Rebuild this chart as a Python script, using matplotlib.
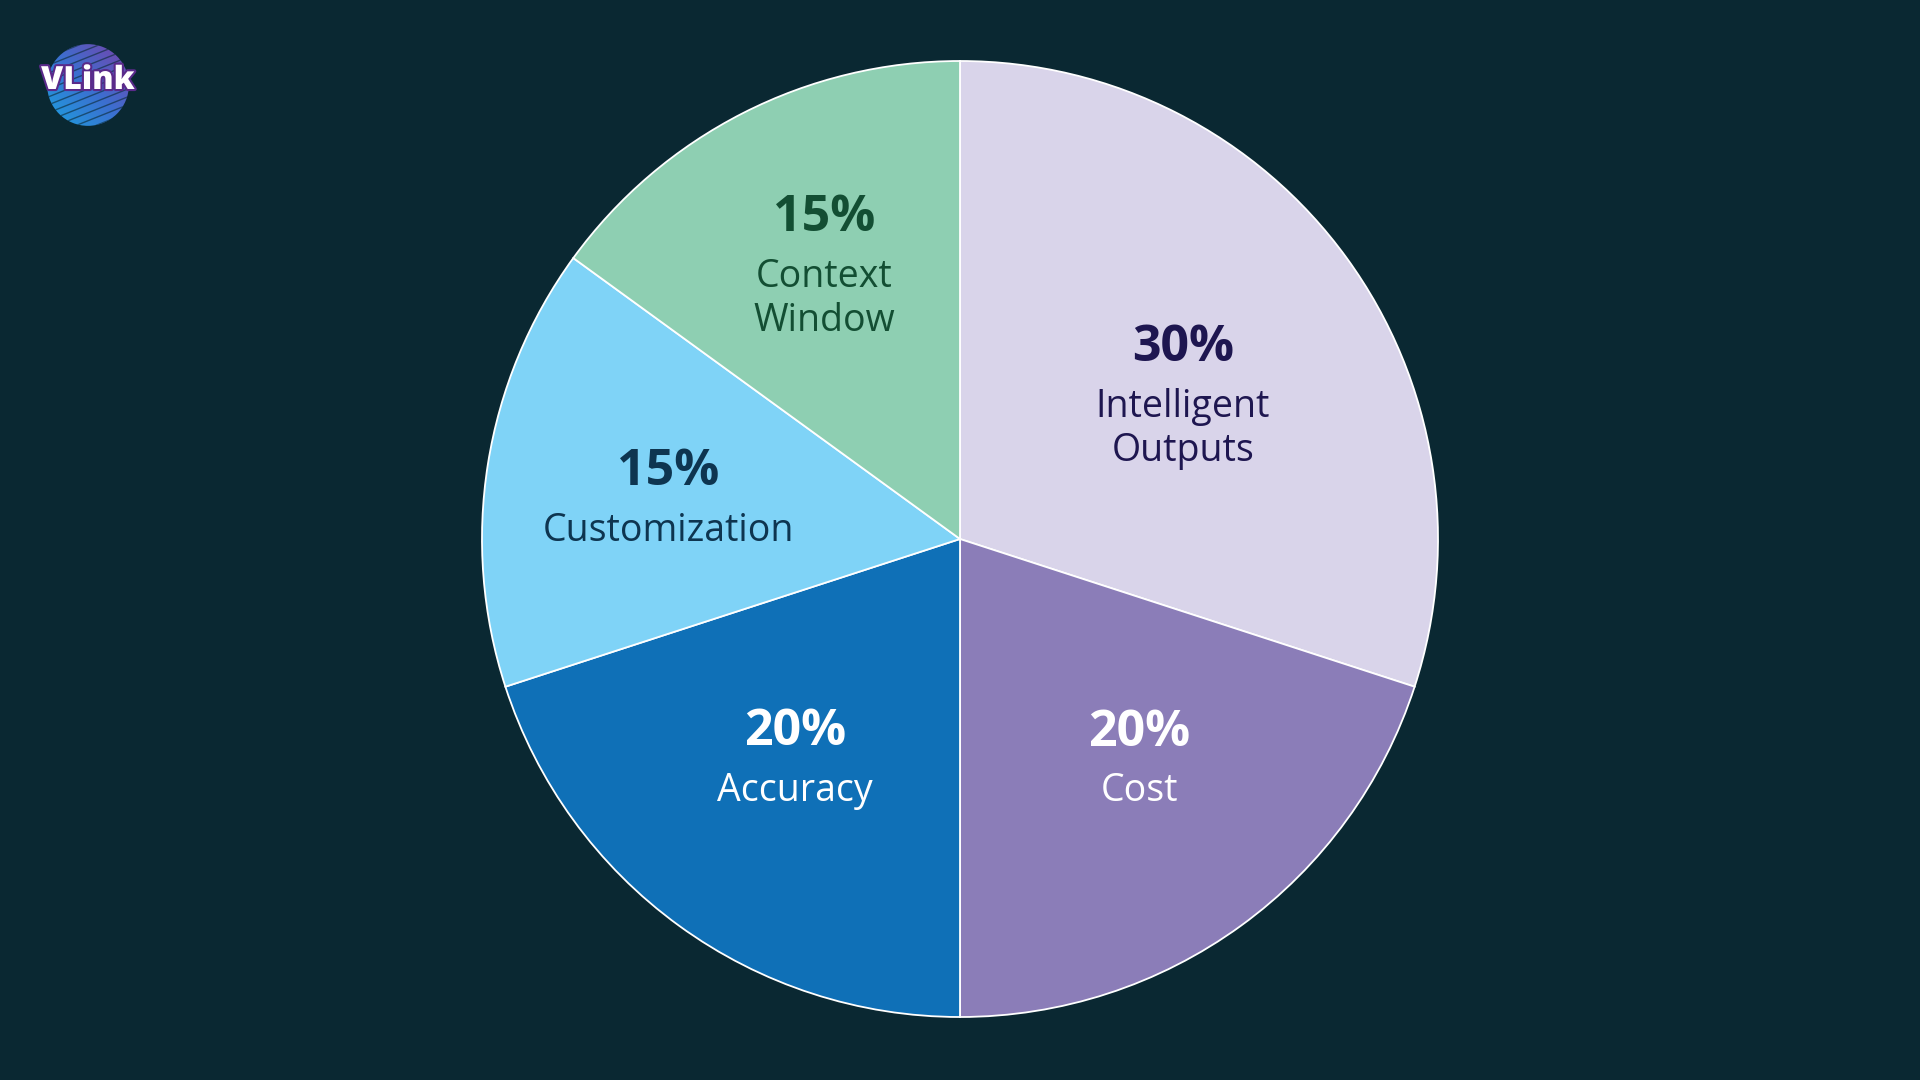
import numpy as np
import matplotlib
matplotlib.use("Agg")
import matplotlib.pyplot as plt
import matplotlib.patheffects as pe
from matplotlib.patches import Circle

# data
labels = ["Intelligent\nOutputs", "Cost", "Accuracy", "Customization", "Context\nWindow"]
values = [30, 20, 20, 15, 15]
colors = ["#D9D4EA", "#8B7DB8", "#0F70B7", "#7FD3F7", "#8ECFB2"]
text_colors = ["#1E1650", "#FFFFFF", "#FFFFFF", "#0E3550", "#134E33"]

# layout: radius and angle shift (deg) of the percent baseline for each wedge
label_r = [0.597, 0.572, 0.553, 0.620, 0.704]
label_dt = [2.6, 4.9, -2.7, -1.5, -3.2]

BG = "#0A2832"
plt.rcParams['font.family'] = ['Open Sans', 'DejaVu Sans']

fig = plt.figure(figsize=(19.2, 10.8), dpi=100, facecolor=BG)
ax = fig.add_axes([0, 0, 1, 1])
ax.set_facecolor(BG)

R = 478
wedges, _ = ax.pie(values, colors=colors, startangle=90, counterclock=False,
                   radius=1, center=(0, 0),
                   wedgeprops=dict(edgecolor="white", linewidth=1.3))

for w, lab, pct, tc, r, dt in zip(wedges, labels, values, text_colors, label_r, label_dt):
    mid = np.deg2rad((w.theta1 + w.theta2) / 2 + dt)
    x, y = r * np.cos(mid), r * np.sin(mid)
    ax.text(x, y, f"{pct}%", ha="center", va="baseline", fontsize=36,
            fontweight="bold", color=tc)
    ax.text(x, y - 0.056, lab, ha="center", va="top", fontsize=27,
            color=tc, linespacing=1.2)

ax.set_xlim(-960 / R, 960 / R)
ax.set_ylim(-541 / R, 539 / R)
ax.set_aspect("equal")
ax.axis("off")

# logo
lax = fig.add_axes([45 / 1920, 1 - 128 / 1080, 86 / 1920, 86 / 1080])
lax.set_xlim(-1, 1)
lax.set_ylim(-1, 1)
lax.set_aspect("equal")
lax.axis("off")
gx, gy = np.meshgrid(np.linspace(-1, 1, 200), np.linspace(-1, 1, 200))
grad = (gx + gy) / 2
img = lax.imshow(grad, extent=(-1, 1, -1, 1), origin="lower",
                 cmap=matplotlib.colors.LinearSegmentedColormap.from_list(
                     "lg", ["#1AA3E0", "#3C6FD0", "#7B3FA8"]))
clip = Circle((0, 0), 0.95, transform=lax.transData)
img.set_clip_path(clip)
for k in np.linspace(-1.2, 1.2, 14):
    line, = lax.plot([-1, 1], [k - 0.4, k + 0.4], color="#0A2832", lw=1.0, alpha=0.6)
    line.set_clip_path(clip)
fig.text(88 / 1920, 1 - 81 / 1080, "VLink", ha="center", va="center",
         fontsize=23, fontweight="heavy", color="white",
         path_effects=[pe.withStroke(linewidth=3, foreground="#5A2A8A")])

fig.savefig("out.png", dpi=100, facecolor=BG)
